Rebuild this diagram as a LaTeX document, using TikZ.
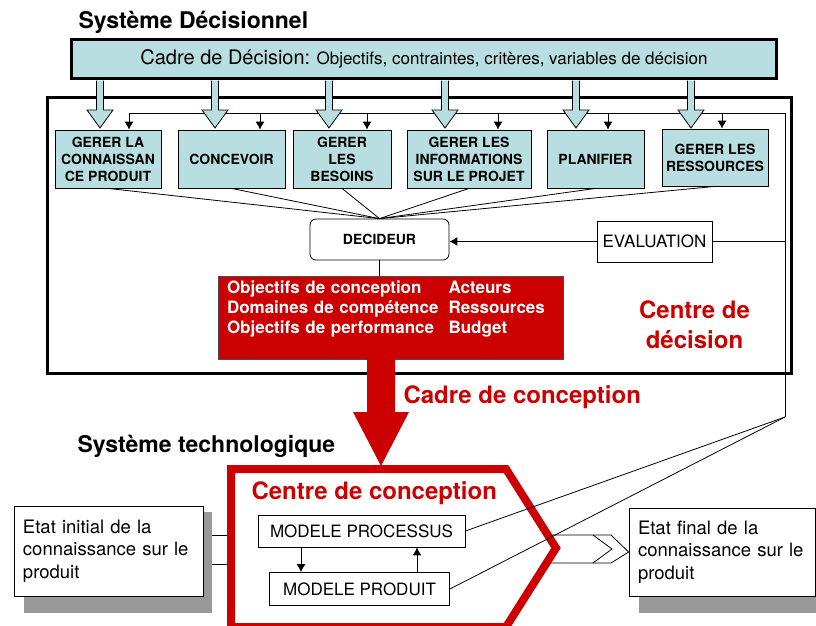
\documentclass[tikz,border=0pt]{standalone}
\usepackage{fontspec}
\setmainfont{TeX Gyre Heros}
\usetikzlibrary{arrows.meta,backgrounds}
\definecolor{bleu}{RGB}{184,222,226}
\definecolor{rouge}{RGB}{204,0,0}
\definecolor{ombre}{RGB}{153,153,153}

\begin{document}
\begin{tikzpicture}[x=1pt,y=-1pt]
	\tikzset{proc/.style={draw,fill=bleu,line width=0.8pt,minimum height=58pt,inner sep=1pt,align=center,font=\fontsize{14}{17}\selectfont\bfseries},
		boite/.style={draw,fill=white,line width=0.8pt,font=\fontsize{17}{20}\selectfont},
		etat/.style={draw,fill=white,line width=0.8pt,inner xsep=9pt,align=left,font=\fontsize{18.5}{22.5}\selectfont},
		tip/.style={-{Latex[length=8pt,width=9pt]}},
		titre/.style={font=\fontsize{23}{27}\selectfont\bfseries},
		rtitre/.style={text=rouge,font=\fontsize{24}{30}\selectfont\bfseries}}
	\path[use as bounding box,clip] (0,0) rectangle (816,625);
	
	\node[titre,anchor=base west] (tsd) at (75,28) {Système Décisionnel};
	\node[draw,line width=3pt,minimum width=744pt,minimum height=276pt] (cdec) at (419.5,235.5) {};
	\node[draw,fill=bleu,line width=3.5pt,minimum width=705pt,minimum height=39pt,font=\fontsize{17}{20}\selectfont] (cadre) at (424,59)
		{{\fontsize{20}{24}\selectfont Cadre de Décision:} Objectifs, contraintes, critères, variables de décision};
	
	% fonctions du centre de decision
	\node[proc,minimum width=106pt] (g1) at (108,159) {GERER LA\\CONNAISSAN\\CE PRODUIT};
	\node[proc,minimum width=107pt] (g2) at (231.5,159) {CONCEVOIR};
	\node[proc,minimum width=98pt] (g3) at (342,159) {GERER\\LES\\BESOINS};
	\node[proc,minimum width=124pt] (g4) at (469,159) {GERER LES\\INFORMATIONS\\SUR LE PROJET};
	\node[proc,minimum width=97pt] (g5) at (595.5,159) {PLANIFIER};
	\node[proc,minimum width=106pt,minimum height=57pt] (g6) at (715,157.5) {GERER LES\\RESSOURCES};
	
	\coordinate (busL) at (129,113);
	\coordinate (busR) at (785,113);
	\coordinate (fb) at (785,417);
	\draw[line width=0.8pt] (busL) -- (busR) -- (fb);
	\foreach \n/\x in {g1/129,g2/260,g3/367,g4/498,g5/608,g6/722}
		\draw[tip,line width=0.8pt] (busL -| \x,0) -- (\n.north -| \x,0);
	\foreach \x in {100,215,329,445,576,691}
		\draw[fill=bleu,line width=0.8pt] ({\x-3.5},80.5) -- ({\x-3.5},110) -- ({\x-13},110) -- (\x,128) -- ({\x+13},110) -- ({\x+3.5},110) -- ({\x+3.5},80.5);
	
	\node[draw,fill=white,line width=0.8pt,rounded corners=6pt,minimum width=139pt,minimum height=41pt,font=\fontsize{14}{17}\selectfont\bfseries] (dec) at (379.5,239.5) {DECIDEUR};
	\foreach \i in {1,...,6}
		\draw[line width=0.8pt] (g\i.south) -- (dec.north);
	\node[boite,minimum width=115pt,minimum height=41pt] (eval) at (654.5,241.5) {EVALUATION};
	\draw[tip,line width=1pt] (eval.west) -- (dec.east |- eval.west);
	\draw[line width=0.8pt] (eval.east) -- (eval.east -| fb);
	
	\node[draw=black!70,fill=rouge,text=white,minimum width=345pt,minimum height=81pt,text width=327pt,align=left,font=\fontsize{17}{20}\selectfont\bfseries] (obj) at (390.5,317.5)
		{\begin{tabular}{@{}l@{\hspace{10pt}}l@{}}Objectifs de conception & Acteurs\\ Domaines de compétence & Ressources\\ Objectifs de performance & Budget\\[16pt]\end{tabular}};
	\draw[line width=0.8pt] (dec.south) -- (dec.south |- obj.north);
	\fill[rouge] (367,358) -- (367,412) -- (353,412) -- (381,466) -- (409,412) -- (395,412) -- (395,358) -- cycle;
	
	\node[rtitre,anchor=base west] (cc) at (400,403) {Cadre de conception};
	\node[rtitre,align=center] (cdd) at (694.5,325) {Centre de\\décision};
	\node[titre,anchor=base west] (tst) at (74,452) {Système technologique};
	
	% centre de conception
	\coordinate (hexL) at (231,548);
	\coordinate (hexR) at (556,548);
	\node[etat,text width=171pt,minimum height=90pt] (ini) at (108.5,551) {Etat initial de la\\connaissance sur le\\produit};
	\node[etat,text width=168pt,minimum height=88pt] (fin) at (722,552) {Etat final de la\\connaissance sur le\\produit};
	\begin{scope}[on background layer]
		\foreach \b in {ini,fin}
			\fill[ombre] ([shift={(10,6)}]\b.north west) rectangle ([shift={(9,17)}]\b.south east);
	\end{scope}
	\coordinate (iniR) at ([xshift=9pt]ini.east);
	\foreach \y in {535,564}
		\draw[line width=0.8pt] (iniR |- 0,\y) -- (hexL |- 0,\y);
	\draw[line width=0.8pt] (548,535) -- (611,535) -- (fin.west) -- (611,563) -- (548,563);
	\draw[line width=0.8pt] (593,535) -- (612,549) -- (593,563);
	\draw[rouge,line width=8pt] (hexL |- 0,469) -- (506,469) -- (hexR) -- (506,627) -- (hexL |- 0,627) -- cycle;
	\node[rtitre,anchor=base west] (cco) at (248,499) {Centre de conception};
	
	\node[boite,minimum width=207pt,minimum height=32pt] (mproc) at (361.5,531) {MODELE PROCESSUS};
	\node[boite,minimum width=180pt,minimum height=33pt] (mprod) at (359.5,589) {MODELE PRODUIT};
	\draw[tip,line width=1pt] (mproc.south -| 301,0) -- (mprod.north -| 301,0);
	\draw[tip,line width=1pt] (mprod.north -| 417,0) -- (mproc.south -| 417,0);
	\draw[line width=0.8pt] (fb) -- (mproc.east);
	\draw[line width=0.8pt] (fb) -- (mprod.east);
\end{tikzpicture}
\end{document}
